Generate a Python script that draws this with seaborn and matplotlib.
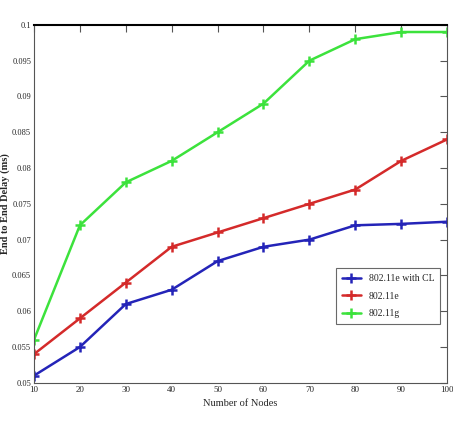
import pandas as pd
import seaborn as sns
import matplotlib.pyplot as plt

# values
nodes = [10, 20, 30, 40, 50, 60, 70, 80, 90, 100]
delay_cl = [0.051, 0.055, 0.061, 0.063, 0.067, 0.069, 0.070, 0.072, 0.0722, 0.0725]
delay_e = [0.054, 0.059, 0.064, 0.069, 0.071, 0.073, 0.075, 0.077, 0.081, 0.084]
delay_g = [0.056, 0.072, 0.078, 0.081, 0.085, 0.089, 0.095, 0.098, 0.099, 0.099]
labels = ['802.11e with CL', '802.11e', '802.11g']

df = pd.DataFrame({
    'Nodes': nodes * 3,
    'Delay': delay_cl + delay_e + delay_g,
    'Scheme': [labels[0]] * 10 + [labels[1]] * 10 + [labels[2]] * 10,
})

sns.set_style('white')
plt.rcParams['font.family'] = ['Liberation Serif', 'DejaVu Serif']

fig = plt.figure(figsize=(4.53, 4.36), dpi=100)
ax = fig.add_axes([0.075, 0.122, 0.912, 0.821])

palette = {labels[0]: '#2424b8', labels[1]: '#d42a2a', labels[2]: '#3ce23c'}
sns.lineplot(data=df, x='Nodes', y='Delay', hue='Scheme', palette=palette,
             marker='+', markersize=7, linewidth=1.8, ax=ax)
for ln in ax.lines:
    ln.set_markeredgecolor(ln.get_color())
    ln.set_markeredgewidth(1.8)

ax.set_xlim(10, 100)
ax.set_ylim(0.05, 0.1)
ax.set_xticks(nodes)
ax.set_xticklabels([str(n) for n in nodes], fontsize=6.5)
yt = [0.05 + 0.005 * i for i in range(11)]
ax.set_yticks(yt)
ax.set_yticklabels(['0.05', '0.055', '0.06', '0.065', '0.07', '0.075', '0.08',
                    '0.085', '0.09', '0.095', '0.1'], fontsize=6)
ax.tick_params(direction='in', length=5, width=0.8, color='#555555',
               top=True, right=True, pad=2)
for s in ax.spines.values():
    s.set_color('#555555')
    s.set_linewidth(0.8)
ax.spines['top'].set_color('black')
ax.spines['top'].set_linewidth(1.5)

ax.set_xlabel('Number of Nodes', fontsize=7.5, labelpad=4)
ax.set_ylabel('End to End Delay (ms)', fontsize=7.5, fontweight='bold')
ax.yaxis.set_label_coords(-0.058, 0.5)

leg = ax.legend(loc='lower right', bbox_to_anchor=(0.995, 0.15), fontsize=7,
                frameon=True, fancybox=False, edgecolor='#444444',
                handlelength=2.0, borderpad=0.6, labelspacing=0.9)
leg.get_frame().set_linewidth(0.8)
for h in leg.legend_handles:
    h.set_marker('+')
    h.set_markersize(7)
    h.set_markeredgecolor(h.get_color())
    h.set_markeredgewidth(1.8)
    h.set_linewidth(1.8)

fig.savefig('out.png', dpi=100)
